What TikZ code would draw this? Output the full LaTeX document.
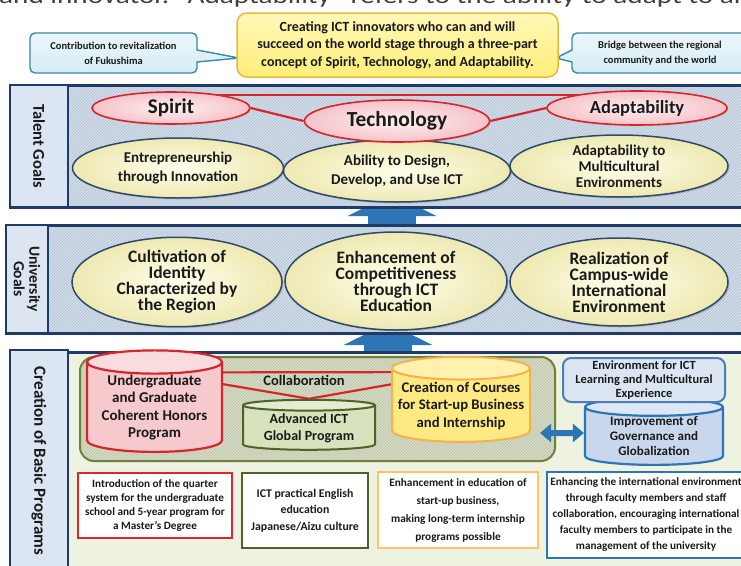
\documentclass[tikz,border=0pt]{standalone}
\usepackage{fontspec}
\setmainfont{Carlito}
\usetikzlibrary{shapes.geometric,shapes.callouts,shadows,patterns,arrows.meta}
\definecolor{navy}{HTML}{1F3B66}
\definecolor{labfill}{HTML}{DCE6F2}
\definecolor{hatchbase}{HTML}{D3DEE9}
\definecolor{hatchline}{HTML}{B2C1D2}
\definecolor{greenbase}{HTML}{EEF2E0}
\definecolor{olivebase}{HTML}{D6DCC6}
\definecolor{oliveline}{HTML}{BAC2A6}
\definecolor{olive}{HTML}{6E7F3E}
\definecolor{pinkfill}{HTML}{F5C3C9}
\definecolor{pinklight}{HTML}{FDEFF0}
\definecolor{redline}{HTML}{D7262B}
\definecolor{creamfill}{HTML}{EEE9B2}
\definecolor{creamlight}{HTML}{FFFEEC}
\definecolor{creamborder}{HTML}{2E4A68}
\definecolor{callfill}{HTML}{D6EDF5}
\definecolor{callborder}{HTML}{3A8AA3}
\definecolor{yelfill}{HTML}{FFEE78}
\definecolor{yellight}{HTML}{FFF8B8}
\definecolor{yelborder}{HTML}{E9B73C}
\definecolor{arrowblue}{HTML}{2E75B6}
\definecolor{cylpink}{HTML}{F6CACD}
\definecolor{cylpinkend}{HTML}{F9DCDE}
\definecolor{cylgreen}{HTML}{D7E3BD}
\definecolor{cylgreenend}{HTML}{E4ECD2}
\definecolor{cylgreenb}{HTML}{4F6228}
\definecolor{cylyellow}{HTML}{FFE982}
\definecolor{cylyellowend}{HTML}{FFF1AE}
\definecolor{cylorange}{HTML}{F5B14A}
\definecolor{cylblue}{HTML}{C9D7EC}
\definecolor{cylblueend}{HTML}{DCE6F4}
\definecolor{envfill}{HTML}{DCE6F2}
\definecolor{envborder}{HTML}{4A7EBB}
\definecolor{boxred}{HTML}{E0262B}
\definecolor{boxgreen}{HTML}{4F6228}
\definecolor{boxorange}{HTML}{F9C46E}
\definecolor{boxblue}{HTML}{2E75B6}
\definecolor{textdark}{HTML}{1A1A1A}
\pgfdeclarelayer{back}
\pgfdeclarelayer{mid}
\pgfsetlayers{back,mid,main}
\begin{document}
\begin{tikzpicture}[x=1pt,y=-1pt,
  panel/.style={draw=navy, line width=3pt, inner sep=0pt, preaction={fill=hatchbase}, pattern=north east lines, pattern color=hatchline},
  greenpanel/.style={draw=navy, line width=3pt, inner sep=0pt, fill=greenbase},
  labcol/.style={draw=navy, line width=2.5pt, fill=labfill, inner sep=0pt, rotate=-90, font=\bfseries\fontsize{16.5}{17}\selectfont, text=textdark, align=center},
  pinkell/.style={ellipse, draw=redline, line width=1.6pt, inner color=pinklight, outer color=pinkfill, inner sep=0pt, text=textdark, drop shadow={opacity=0.3, shadow xshift=1.2pt, shadow yshift=-1.2pt}},
  creamell/.style={ellipse, draw=creamborder, line width=1.5pt, inner color=creamlight, outer color=creamfill, inner sep=0pt, align=center, text=textdark, drop shadow={opacity=0.35, shadow xshift=1.5pt, shadow yshift=-1.5pt}},
  callbox/.style={rectangle callout, draw=callborder, line width=1.4pt, top color=callfill!50!white, bottom color=callfill, rounded corners=5pt, callout pointer width=12pt, align=center, text=textdark, font=\bfseries\fontsize{10.5}{15}\selectfont, inner sep=0pt},
  topbox/.style={draw=yelborder, line width=1.5pt, top color=yellight, bottom color=yelfill, rounded corners=10pt, align=center, inner sep=0pt, text=textdark, font=\bfseries\fontsize{14}{17.5}\selectfont},
  bigarrow/.style={draw=arrowblue, line width=48pt, -{Triangle[width=88pt,length=22pt]}},
  cyl/.style={cylinder, shape border rotate=90, cylinder uses custom fill, inner sep=0pt, align=center, text=textdark, font=\bfseries\fontsize{15}{17.5}\selectfont},
  collab/.style={draw=redline, line width=2.2pt, line join=miter},
  dblarrow/.style={draw=arrowblue, line width=6pt, {Triangle[width=18pt,length=11pt]}-{Triangle[width=18pt,length=11pt]}},
  infobox/.style={draw=#1, line width=2pt, fill=white, inner sep=0pt, align=center, text=textdark, font=\bfseries\fontsize{11.2}{14}\selectfont},
  univtext/.style={font=\bfseries\fontsize{17.5}{16}\selectfont},
]
\useasboundingbox (0,0) rectangle (741,565);
\node[anchor=base west, inner sep=0pt, font=\fontsize{23}{23}\selectfont, text=black!75] (topline) at (-1,3) {\scalebox{1.27}[1]{and innovator. “Adaptability” refers to the ability to adapt to all}};

\begin{pgfonlayer}{back}
  \coordinate (a1s) at (392,245);
  \coordinate (a1t) at (392,194);
  \coordinate (a2s) at (388,370);
  \coordinate (a2t) at (388,323);
  \draw[bigarrow] (a1s) -- (a1t);
  \draw[bigarrow] (a2s) -- (a2t);
  \node[panel, minimum width=750pt, minimum height=122pt] (talent) at (385,146) {};
  \node[labcol, minimum width=122pt, minimum height=58pt] (talentlab) at (39,146) {Talent Goals};
  \node[panel, minimum width=754pt, minimum height=108pt] (univ) at (383,279) {};
  \node[labcol, minimum width=108pt, minimum height=42pt, font=\bfseries\fontsize{15.5}{15.5}\selectfont] (univlab) at (27,279) {University\\Goals};
  \node[greenpanel, minimum width=750pt, minimum height=238pt] (create) at (385,471) {};
  \node[labcol, minimum width=222pt, minimum height=58pt, font=\bfseries\fontsize{17}{17}\selectfont] (createlab) at (39,461) {Creation of Basic Programs};
  \node[draw=olive, line width=2pt, rounded corners=14pt, preaction={fill=olivebase}, pattern=north east lines, pattern color=oliveline, minimum width=475pt, minimum height=104pt, inner sep=0pt] (prog) at (317.5,409) {};
\end{pgfonlayer}

% top callouts and concept box
\node[callbox, minimum width=167pt, minimum height=40pt, callout absolute pointer={(239,58)}] (fuku) at (113.5,53) {Contribution to revitalization\\of Fukushima};
\node[callbox, minimum width=176pt, minimum height=40pt, callout absolute pointer={(556,58)}] (bridge) at (660,53) {Bridge between the regional\\community and the world};
\node[topbox, minimum width=321pt, minimum height=64pt] (concept) at (397.5,45) {Creating ICT innovators who can and will\\succeed on the world stage through a three-part\\concept of Spirit, Technology, and Adaptability.};

% talent goals
\node[creamell, minimum width=211pt, minimum height=60pt, font=\bfseries\fontsize{15}{19}\selectfont] (entre) at (178,168) {Entrepreneurship\\through Innovation};
\node[creamell, minimum width=227pt, minimum height=62pt, font=\bfseries\fontsize{15}{19}\selectfont] (ability) at (397,171) {Ability to Design,\\Develop, and Use ICT};
\node[creamell, minimum width=218pt, minimum height=62pt, font=\bfseries\fontsize{15}{16}\selectfont] (adaptmc) at (619,166) {Adaptability to\\Multicultural\\Environments};
\node[pinkell, minimum width=158pt, minimum height=32pt, font=\bfseries\fontsize{21}{22}\selectfont] (spirit) at (171,108) {Spirit};
\node[pinkell, minimum width=185pt, minimum height=42pt, font=\bfseries\fontsize{21.5}{22}\selectfont] (tech) at (397,121) {Technology};
\node[pinkell, minimum width=180pt, minimum height=34pt, font=\bfseries\fontsize{18.5}{19}\selectfont] (adapt) at (637,108) {Adaptability};
\begin{pgfonlayer}{mid}
  \draw[collab] (spirit.east) -- (tech.west);
  \draw[collab] (tech.east) -- (adapt.west);
  \draw[collab] ([yshift=13pt]spirit.center) -- ([yshift=13pt]adapt.center);
\end{pgfonlayer}

% university goals
\node[creamell, univtext, minimum width=210pt, minimum height=88pt] (cult) at (177,282) {Cultivation of\\Identity\\Characterized by\\the Region};
\node[creamell, univtext, minimum width=222pt, minimum height=98pt] (enh) at (396,281) {Enhancement of\\Competitiveness\\through ICT\\Education};
\node[creamell, univtext, minimum width=218pt, minimum height=88pt] (real) at (619,282) {Realization of\\Campus-wide\\International\\Environment};

% creation of basic programs
\node[cyl, draw=redline, line width=2.2pt, cylinder body fill=cylpink, cylinder end fill=cylpinkend, aspect=0.22, minimum width=135pt, minimum height=89pt] (honors) at (154.5,407.5) {Undergraduate\\and Graduate\\Coherent Honors\\Program};
\node[cyl, draw=cylgreenb, line width=2pt, cylinder body fill=cylgreen, cylinder end fill=cylgreenend, aspect=0.12, minimum width=132pt, minimum height=50pt, font=\bfseries\fontsize{14}{17}\selectfont] (adv) at (309,428) {Advanced ICT\\Global Program};
\node[cyl, draw=cylorange, line width=2pt, cylinder body fill=cylyellow, cylinder end fill=cylyellowend, aspect=0.18, minimum width=138pt, minimum height=85pt, font=\bfseries\fontsize{14.7}{17.5}\selectfont] (courses) at (461,405.5) {Creation of Courses\\for Start-up Business\\and Internship};
\node[cyl, draw=arrowblue, line width=2.2pt, cylinder body fill=cylblue, cylinder end fill=cylblueend, aspect=0.2, minimum width=138pt, minimum height=53pt, font=\bfseries\fontsize{13}{15}\selectfont] (gov) at (654,436.5) {Improvement of\\Governance and\\Globalization};
\node[draw=envborder, line width=2pt, fill=envfill, rounded corners=8pt, minimum width=162pt, minimum height=44pt, inner sep=0pt, align=center, text=textdark, font=\bfseries\fontsize{12.5}{14}\selectfont] (env) at (644,380) {Environment for ICT\\Learning and Multicultural\\Experience};
\begin{pgfonlayer}{mid}
  \draw[collab] ([yshift=35pt]honors.center) -- ([yshift=33.5pt]courses.center) -- (adv.north) -- cycle;
\end{pgfonlayer}
\node[font=\bfseries\fontsize{14.5}{15}\selectfont, text=textdark, inner sep=0pt] (collabtext) at (304,380) {Collaboration};
\draw[dblarrow] ([xshift=9pt,yshift=-27.5pt]courses.east) -- ([yshift=3.5pt]gov.west);

\node[infobox=boxred, minimum width=154pt, minimum height=65pt] (redbox) at (155,505.5) {Introduction of the quarter\\system for the undergraduate\\school and 5-year program for\\a Master’s Degree};
\node[infobox=boxgreen, minimum width=126pt, minimum height=75pt, font=\bfseries\fontsize{11.8}{16.5}\selectfont] (greenbox) at (305,510.5) {ICT practical English\\education\\Japanese/Aizu culture};
\node[infobox=boxorange, minimum width=160pt, minimum height=76pt, font=\bfseries\fontsize{11.3}{18}\selectfont] (orangebox) at (458,510) {Enhancement in education of\\start-up business,\\making long-term internship\\programs possible};
\node[infobox=boxblue, minimum width=198pt, minimum height=86pt, font=\bfseries\fontsize{11.2}{16}\selectfont] (bluebox) at (646,515) {Enhancing the international environment\\through faculty members and staff\\collaboration, encouraging international\\faculty members to participate in the\\management of the university};
\end{tikzpicture}
\end{document}
